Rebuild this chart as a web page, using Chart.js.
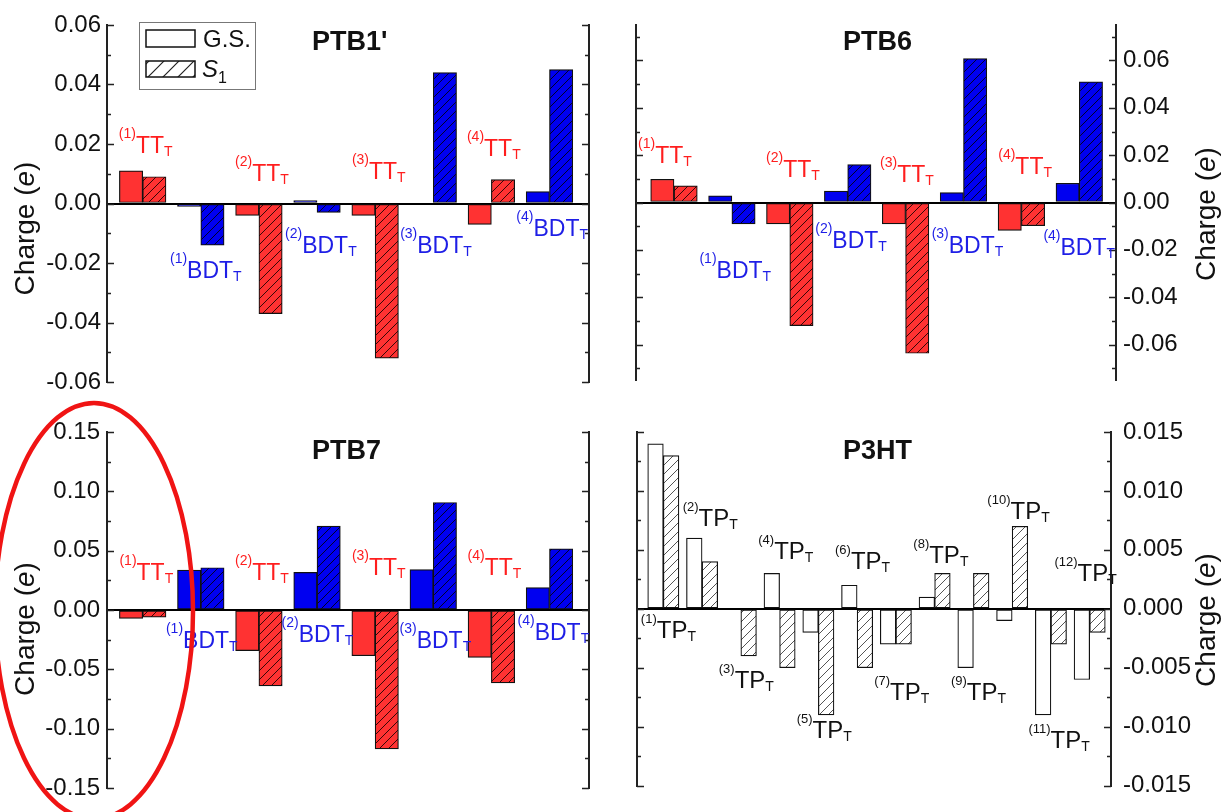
<!DOCTYPE html>
<html>
<head>
<meta charset="utf-8">
<script src="https://cdn.jsdelivr.net/npm/chart.js@4.4.1/dist/chart.umd.min.js"></script>
<style>
  html, body { margin: 0; padding: 0; background: #fff; }
  body { position: relative; width: 1226px; height: 812px; overflow: hidden; }
  canvas { position: absolute; }
</style>
</head>
<body>
<canvas id="ptb1" width="613" height="406" style="left:0;top:0;width:613px;height:406px"></canvas>
<canvas id="ptb6" width="613" height="406" style="left:613px;top:0;width:613px;height:406px"></canvas>
<canvas id="ptb7" width="613" height="422" style="left:0;top:390px;width:613px;height:422px"></canvas>
<canvas id="p3ht" width="613" height="422" style="left:613px;top:390px;width:613px;height:422px"></canvas>
<script>
// Fragment charges (e): ground state (G.S.) and first excited state (S1)
const ptbKinds   = ['TT', 'BDT', 'TT', 'BDT', 'TT', 'BDT', 'TT', 'BDT'];
const ptbIndex   = [1, 1, 2, 2, 3, 3, 4, 4];

const ptb1GS = [0.011, -0.001, -0.004, 0.001, -0.004, 0.000, -0.007, 0.004];
const ptb1S1 = [0.009, -0.014, -0.037, -0.003, -0.052, 0.044, 0.008, 0.045];

const ptb6GS = [0.0098, 0.0028, -0.0090, 0.0048, -0.0090, 0.0042, -0.0118, 0.0081];
const ptb6S1 = [0.0070, -0.0090, -0.0520, 0.0160, -0.0637, 0.0608, -0.0098, 0.0510];

const ptb7GS = [-0.0070, 0.0337, -0.0342, 0.0317, -0.0385, 0.0340, -0.0400, 0.0188];
const ptb7S1 = [-0.0060, 0.0356, -0.0640, 0.0707, -0.1170, 0.0906, -0.0615, 0.0516];

const p3htKinds = ['TP', 'TP', 'TP', 'TP', 'TP', 'TP', 'TP', 'TP', 'TP', 'TP', 'TP', 'TP'];
const p3htIndex = [1, 2, 3, 4, 5, 6, 7, 8, 9, 10, 11, 12];
const p3htGS = [0.014, 0.006, 0.000, 0.003, -0.002, 0.002, -0.003, 0.001, -0.005, -0.001, -0.009, -0.006];
const p3htS1 = [0.013, 0.004, -0.004, -0.005, -0.009, -0.005, -0.003, 0.003, 0.003, 0.007, -0.003, -0.002];

// Labelled tick values of each charge axis
const ptb1Ticks = [-0.06, -0.04, -0.02, 0.00, 0.02, 0.04, 0.06];
const ptb6Ticks = [-0.06, -0.04, -0.02, 0.00, 0.02, 0.04, 0.06];
const ptb7Ticks = [-0.15, -0.10, -0.05, 0.00, 0.05, 0.10, 0.15];
const p3htTicks = [-0.015, -0.010, -0.005, 0.000, 0.005, 0.010, 0.015];

const FONT = '"Liberation Sans", Arial, Helvetica, sans-serif';
Chart.defaults.font.family = FONT;

const RED = '#ff3232';
const BLUE = '#0000f0';
const TEXT_COLOR = { TT: '#ff1e1e', BDT: '#1e1ee6', TP: '#111111' };

function hatch(base, line, gap, width) {
  const c = document.createElement('canvas');
  c.width = gap; c.height = gap;
  const g = c.getContext('2d');
  g.fillStyle = base;
  g.fillRect(0, 0, gap, gap);
  g.strokeStyle = line;
  g.lineWidth = width;
  g.beginPath();
  g.moveTo(-1, gap + 1); g.lineTo(gap + 1, -1);
  g.moveTo(-1, 1); g.lineTo(1, -1);
  g.moveTo(gap - 1, gap + 1); g.lineTo(gap + 1, gap - 1);
  g.stroke();
  return g.createPattern(c, 'repeat');
}

const redHatch = hatch(RED, 'rgba(20,0,0,0.85)', 9, 1);
const blueHatch = hatch(BLUE, 'rgba(0,0,20,0.9)', 9, 1);
const whiteHatch = hatch('#ffffff', '#555555', 9, 1);
const legendHatch = hatch('#ffffff', '#222222', 15, 1.2);

function drawRuns(ctx, x, y, runs) {
  for (const r of runs) {
    ctx.font = `${r.style || 'normal'} ${r.weight || 'normal'} ${r.size}px ${FONT}`;
    ctx.fillStyle = r.color || '#111';
    ctx.fillText(r.t, x, y + (r.dy || 0));
    x += ctx.measureText(r.t).width;
  }
  return x;
}
function runsWidth(ctx, runs) {
  let w = 0;
  for (const r of runs) {
    ctx.font = `${r.style || 'normal'} ${r.weight || 'normal'} ${r.size}px ${FONT}`;
    w += ctx.measureText(r.t).width;
  }
  return w;
}

function chargeTitle(ctx, x, y) {
  const runs = [
    { t: 'Charge (', size: 28, color: '#111' },
    { t: 'e', size: 28, style: 'italic', color: '#111' },
    { t: ')', size: 28, color: '#111' }
  ];
  const w = runsWidth(ctx, runs);
  ctx.save();
  ctx.translate(x, y);
  ctx.rotate(-Math.PI / 2);
  ctx.textBaseline = 'alphabetic';
  ctx.textAlign = 'left';
  drawRuns(ctx, -w / 2, 0, runs);
  ctx.restore();
}

function tickGrid(min, max, step) {
  const out = [];
  const k0 = Math.ceil(min / step - 1e-6), k1 = Math.floor(max / step + 1e-6);
  for (let k = k0; k <= k1; k++) out.push(+(k * step).toFixed(6));
  return out;
}
function isLabelled(v, labelled) {
  return labelled.some(t => Math.abs(t - v) < 1e-9);
}

// Draws inward tick marks, fragment labels, titles and extras on top of the bars
const panelDecor = {
  id: 'panelDecor',
  afterDraw(chart, args, o) {
    const ctx = chart.ctx;
    const area = chart.chartArea;
    const ys = chart.scales.y;
    const xs = chart.scales.x;
    ctx.save();

    // inward ticks on both vertical axes
    ctx.strokeStyle = '#222';
    ctx.lineWidth = 1.5;
    ctx.beginPath();
    for (const t of ys.ticks) {
      const py = Math.round(ys.getPixelForValue(t.value)) + 0.5;
      const len = isLabelled(t.value, o.labelled) ? 7 : 4;
      ctx.moveTo(area.left, py); ctx.lineTo(area.left + len, py);
      ctx.moveTo(area.right, py); ctx.lineTo(area.right - len, py);
    }
    ctx.stroke();

    // fragment labels: superscript index, name, subscript T
    ctx.textAlign = 'left';
    ctx.textBaseline = 'alphabetic';
    o.kinds.forEach((kind, i) => {
      const pos = o.labelAt[i];
      const px = xs.getPixelForValue(pos[0]);
      const py = ys.getPixelForValue(pos[1]);
      const col = TEXT_COLOR[kind];
      drawRuns(ctx, px, py, [
        { t: `(${o.index[i]})`, size: o.supSize, dy: -o.supRaise, color: col },
        { t: kind, size: o.mainSize, color: col },
        { t: 'T', size: 14, dy: 3, color: col }
      ]);
    });

    // panel name
    drawRuns(ctx, o.nameAt[0], o.nameAt[1], [{ t: o.name, size: 27, weight: 'bold', color: '#111' }]);

    // axis title
    chargeTitle(ctx, o.titleAt[0], o.titleAt[1]);

    if (o.legend) {
      ctx.strokeStyle = '#777';
      ctx.lineWidth = 1;
      ctx.strokeRect(139.5, 22.5, 116, 67);
      ctx.fillStyle = '#fff';
      ctx.fillRect(146, 30, 49, 17);
      ctx.strokeStyle = '#111';
      ctx.lineWidth = 1.5;
      ctx.strokeRect(146, 30, 49, 17);
      ctx.fillStyle = legendHatch;
      ctx.fillRect(146, 61, 49, 16);
      ctx.strokeRect(146, 61, 49, 16);
      drawRuns(ctx, 203, 47, [{ t: 'G.S.', size: 24, color: '#111' }]);
      drawRuns(ctx, 202, 77, [
        { t: 'S', size: 24, style: 'italic', color: '#111' },
        { t: '1', size: 16, dy: 6, color: '#111' }
      ]);
    }

    if (o.ring) {
      ctx.strokeStyle = '#f01414';
      ctx.lineWidth = 4.5;
      ctx.beginPath();
      ctx.ellipse(o.ring[0], o.ring[1], o.ring[2], o.ring[3], 0, 0, Math.PI * 2);
      ctx.stroke();
    }
    ctx.restore();
  }
};

function axisScale(side, p, showLabels) {
  return {
    type: 'linear',
    position: side,
    min: p.yMin,
    max: p.yMax,
    afterFit(scale) { scale.width = side === 'left' ? p.leftW : p.rightW; },
    afterBuildTicks(scale) {
      scale.ticks = tickGrid(p.yMin, p.yMax, p.minor).map(v => ({ value: v }));
    },
    border: { display: true, color: '#222', width: 2 },
    grid: {
      display: side === 'left',
      drawTicks: false,
      drawOnChartArea: true,
      color: c => (Math.abs(c.tick.value) < 1e-9 ? '#000' : 'rgba(0,0,0,0)'),
      lineWidth: 2
    },
    ticks: {
      display: showLabels,
      autoSkip: false,
      padding: p.tickPad,
      color: '#111',
      font: { size: 24, family: FONT },
      callback: v => (isLabelled(v, p.labelled) ? (+v).toFixed(p.decimals) : '')
    }
  };
}

function panel(id, p) {
  const gsFill = p.kinds.map(k => (k === 'TT' ? RED : k === 'BDT' ? BLUE : '#ffffff'));
  const s1Fill = p.kinds.map(k => (k === 'TT' ? redHatch : k === 'BDT' ? blueHatch : whiteHatch));
  return new Chart(document.getElementById(id), {
    type: 'bar',
    data: {
      datasets: [
        { label: 'G.S.', data: p.gs.map((v, i) => ({ x: i, y: v })), backgroundColor: gsFill },
        { label: 'S1', data: p.s1.map((v, i) => ({ x: i, y: v })), backgroundColor: s1Fill }
      ]
    },
    options: {
      responsive: false,
      animation: false,
      events: [],
      layout: { padding: { top: p.padTop, bottom: p.padBottom, left: 0, right: 0 } },
      datasets: {
        bar: { barThickness: p.barW, borderWidth: 1.2, borderColor: '#111', borderSkipped: false, grouped: true }
      },
      plugins: { legend: { display: false }, tooltip: { enabled: false }, panelDecor: p },
      scales: {
        x: { type: 'linear', min: p.xMin, max: p.xMax, offset: false, display: false },
        y: axisScale('left', p, p.labelSide === 'left'),
        y2: axisScale('right', p, p.labelSide === 'right')
      }
    },
    plugins: [panelDecor]
  });
}

panel('ptb1', {
  name: "PTB1'", kinds: ptbKinds, index: ptbIndex, gs: ptb1GS, s1: ptb1S1,
  labelled: ptb1Ticks, yMin: -0.06, yMax: 0.06, minor: 0.01, decimals: 2,
  xMin: -0.614, xMax: 7.68, barW: 23.3,
  leftW: 107, rightW: 24, padTop: 25, padBottom: 24, labelSide: 'left', tickPad: 6,
  mainSize: 23, supSize: 14, supRaise: 15,
  labelAt: [[-0.41, 0.0171], [0.47, -0.0252], [1.59, 0.0077], [2.45, -0.0165],
            [3.60, 0.0084], [4.43, -0.0168], [5.58, 0.0161], [6.43, -0.0108]],
  nameAt: [312, 50], titleAt: [34, 228.5], legend: true
});

panel('ptb6', {
  name: 'PTB6', kinds: ptbKinds, index: ptbIndex, gs: ptb6GS, s1: ptb6S1,
  labelled: ptb6Ticks, yMin: -0.075, yMax: 0.075, minor: 0.01, decimals: 2,
  xMin: -0.656, xMax: 7.634, barW: 23.3,
  leftW: 23, rightW: 110, padTop: 25, padBottom: 26, labelSide: 'right', tickPad: 7,
  mainSize: 23, supSize: 14, supRaise: 15,
  labelAt: [[-0.62, 0.0167], [0.44, -0.0317], [1.59, 0.0108], [2.44, -0.0191],
            [3.56, 0.0087], [4.45, -0.0213], [5.60, 0.0121], [6.38, -0.0220]],
  nameAt: [230, 50], titleAt: [602, 214]
});

panel('ptb7', {
  name: 'PTB7', kinds: ptbKinds, index: ptbIndex, gs: ptb7GS, s1: ptb7S1,
  labelled: ptb7Ticks, yMin: -0.15, yMax: 0.15, minor: 0.025, decimals: 2,
  xMin: -0.614, xMax: 7.68, barW: 23.3,
  leftW: 107, rightW: 24, padTop: 42, padBottom: 24, labelSide: 'left', tickPad: 7,
  mainSize: 23, supSize: 14, supRaise: 15,
  labelAt: [[-0.40, 0.0253], [0.40, -0.0320], [1.59, 0.0253], [2.39, -0.0267],
            [3.60, 0.0295], [4.42, -0.0320], [5.59, 0.0295], [6.45, -0.0253]],
  nameAt: [312, 69], titleAt: [34, 239], ring: [94, 221, 99, 208]
});

panel('p3ht', {
  name: 'P3HT', kinds: p3htKinds, index: p3htIndex, gs: p3htGS, s1: p3htS1,
  labelled: p3htTicks, yMin: -0.015, yMax: 0.015, minor: 0.0025, decimals: 3,
  xMin: -0.679, xMax: 11.55, barW: 15.6,
  leftW: 24, rightW: 115, padTop: 42, padBottom: 24, labelSide: 'right', tickPad: 12,
  mainSize: 24, supSize: 13, supRaise: 15,
  labelAt: [[-0.58, -0.0025], [0.50, 0.0070], [1.43, -0.0067], [2.45, 0.0042],
            [3.44, -0.0110], [4.43, 0.0034], [5.44, -0.0077], [6.45, 0.0039],
            [7.42, -0.0077], [8.36, 0.0076], [9.42, -0.0118], [10.09, 0.0024]],
  nameAt: [230, 69], titleAt: [602, 230]
});
</script>
</body>
</html>
